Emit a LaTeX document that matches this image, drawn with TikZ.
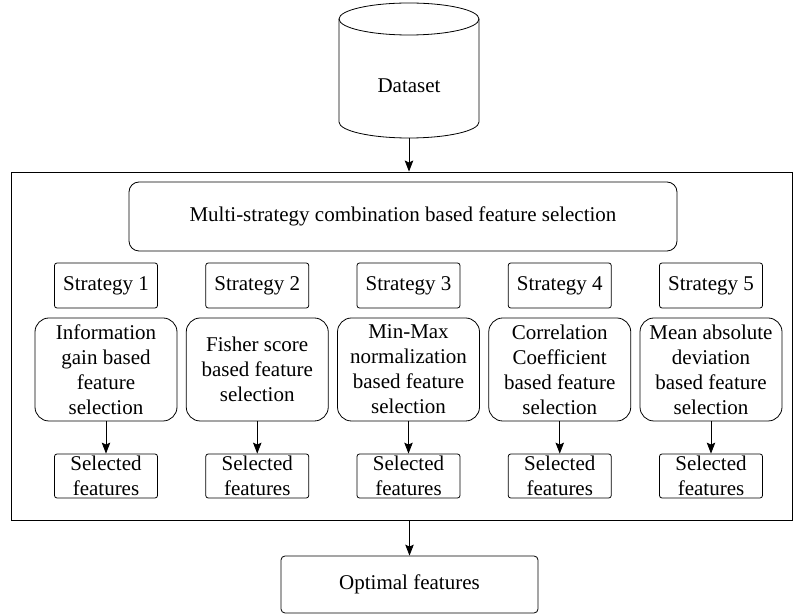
\documentclass[tikz,border=0pt]{standalone}
\usepackage{fontspec}
\setmainfont{Liberation Serif}
\newfontfamily\serifface{Liberation Serif}
\usetikzlibrary{arrows.meta}
\begin{document}
\begin{tikzpicture}[x=1pt,y=1pt,
  every node/.style={font=\serifface\fontsize{21}{25}\selectfont, align=center, inner sep=0pt},
  plainbox/.style={draw, line width=0.8pt, rounded corners=2.5pt},
  featbox/.style={draw, line width=0.8pt, rounded corners=14pt, minimum width=142pt, minimum height=103pt},
  stratbox/.style={plainbox, minimum width=103pt, minimum height=45pt},
  selbox/.style={plainbox, minimum width=103pt, minimum height=44pt},
  arr/.style={-{Stealth[length=11pt,width=8.5pt,inset=2pt]}, line width=0.8pt}
]
\useasboundingbox (0,0) rectangle (793,616);
% cylinder
\draw[line width=0.8pt] (339,597) -- (339,494) arc[start angle=180,end angle=360,x radius=70,y radius=16] -- (479,597);
\draw[line width=0.8pt] (409,597) ellipse [x radius=70, y radius=16];
\node[font=\serifface\fontsize{21}{25}\selectfont] (ds) at (409,530) {Dataset};
\coordinate (dsb) at (409,478);
% outer box
\node[draw, line width=0.9pt, minimum width=781pt, minimum height=348pt] (outer) at (401.5,270) {};
\draw[arr] (dsb) -- (outer.north -| dsb);
% multi box
\node[draw, line width=0.8pt, rounded corners=10pt, minimum width=548pt, minimum height=69pt] (multi) at (403,399.5) {Multi-strategy combination based feature selection};
% strategies
\foreach \i/\x/\txt in {1/106/{Information\\gain based\\feature\\selection},
  2/257.25/{Fisher score\\based feature\\selection},
  3/408.5/{Min-Max\\normalization\\based feature\\selection},
  4/559.75/{Correlation\\Coefficient\\based feature\\selection},
  5/711/{Mean absolute\\deviation\\based feature\\selection}}{
  \node[stratbox] (s\i) at (\x,330.5) {Strategy \i};
  \node[featbox] (f\i) at (\x,246.5) {\txt};
  \node[selbox] (sel\i) at (\x,140) {Selected\\features};
  \draw[arr] (f\i) -- (sel\i);
}
% optimal
\node[plainbox, minimum width=257pt, minimum height=57pt, rounded corners=4pt] (opt) at (409.5,31.5) {Optimal features};
\draw[arr] (outer.south -| opt) -- (opt);
\end{tikzpicture}
\end{document}
